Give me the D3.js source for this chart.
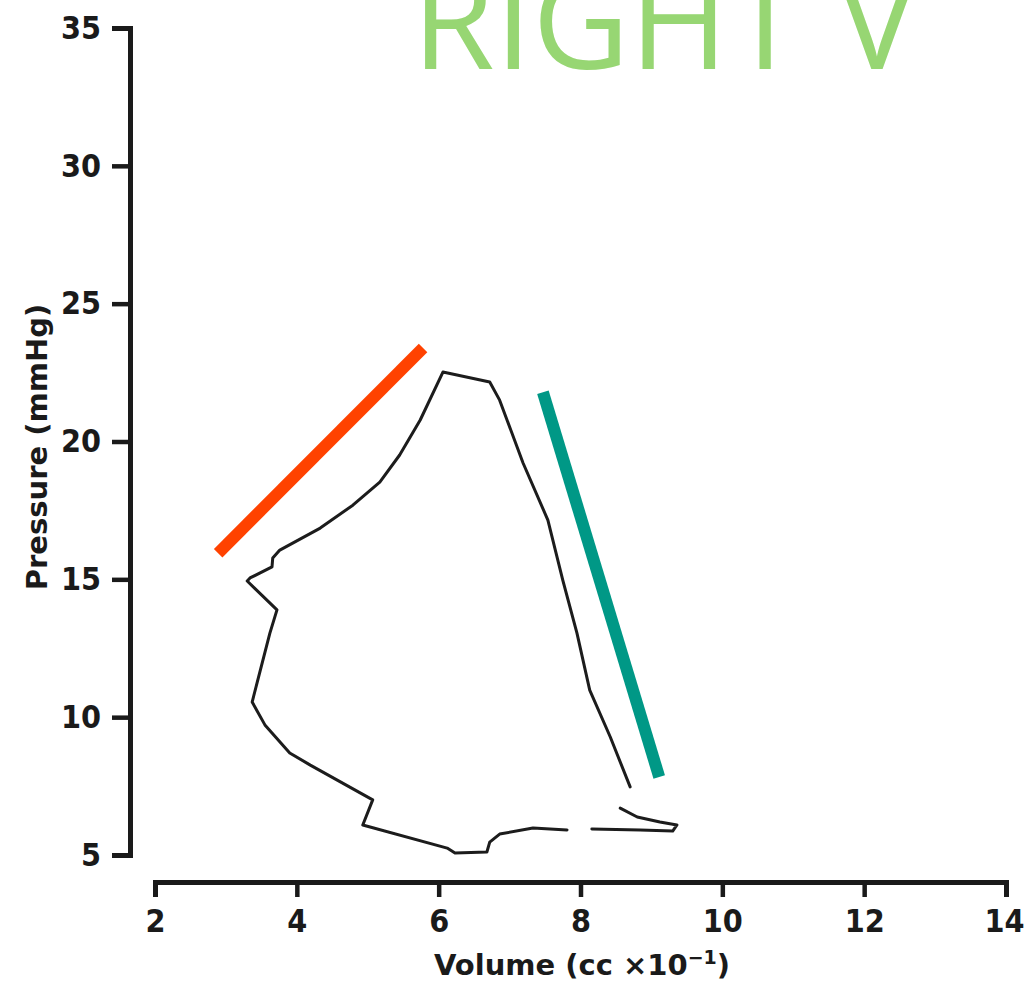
<!DOCTYPE html>
<html>
<head>
<meta charset="utf-8">
<script src="https://cdn.jsdelivr.net/npm/d3@7"></script>
<style>
  html, body { margin: 0; padding: 0; background: #ffffff; overflow: hidden; }
  svg { display: block; }
  .tick text { font-family: "DejaVu Sans Condensed", "DejaVu Sans", sans-serif; font-weight: bold; font-stretch: condensed; font-size: 32px; fill: #1a1a1a; }
  .axis-title { font-family: "DejaVu Sans", sans-serif; font-weight: bold; font-size: 29px; fill: #1a1a1a; }
</style>
</head>
<body>
<script>
// ---- data ----
const titleText = "RIGHT V";
const xTicks = [2, 4, 6, 8, 10, 12, 14];
const yTicks = [5, 10, 15, 20, 25, 30, 35];
const xLabel = "Volume (cc \u00d710";
const yLabel = "Pressure (mmHg)";

// Pressure-volume loop (volume in cc x10^-1, pressure in mmHg); null = gap in the trace
const loopVolume = [8.56, 8.80, 9.12, 9.36, 9.30, 8.84, 8.16, null, 7.81, 7.33, 6.86, 6.72, 6.68, 6.23, 6.12,
  4.93, 5.07, 4.19, 3.90, 3.55, 3.37, 3.62, 3.72, 3.30, 3.34, 3.65, 3.66, 3.76, 4.33, 4.79, 5.17, 5.45,
  5.74, 6.06, 6.72, 6.86, 7.19, 7.54, 7.75, 7.95, 8.13, 8.42, 8.70];
const loopPressure = [6.70, 6.38, 6.20, 6.09, 5.87, 5.91, 5.94, null, 5.91, 5.98, 5.76, 5.47, 5.11, 5.07, 5.25,
  6.09, 7.00, 8.26, 8.70, 9.72, 10.55, 13.05, 13.89, 14.94, 15.05, 15.45, 15.77, 16.06, 16.86, 17.69, 18.53, 19.51,
  20.78, 22.52, 22.16, 21.50, 19.22, 17.15, 14.97, 13.05, 10.98, 9.28, 7.47];

// annotation slope lines
const redLineVolume = [2.89, 5.78];
const redLinePressure = [15.95, 23.39];
const greenLineVolume = [7.47, 9.11];
const greenLinePressure = [21.79, 7.83];

// ---- layout ----
const W = 1025, H = 983;
const svg = d3.select("body").append("svg").attr("width", W).attr("height", H);

const x = d3.scaleLinear().domain([2, 14]).range([155, 1006]);
const y = d3.scaleLinear().domain([5, 35]).range([855, 28]);

// title
svg.append("text")
  .attr("x", 412).attr("y", 69)
  .style("font-family", "'Open Sans', sans-serif")
  .style("font-size", "134px")
  .style("fill", "#97d673")
  .text(titleText);

// y axis
const yAxis = svg.append("g")
  .attr("transform", "translate(130,0)")
  .call(d3.axisLeft(y).tickValues(yTicks).tickSize(18).tickPadding(11).tickFormat(d3.format("d")));
yAxis.select(".domain").attr("stroke", "#1a1a1a").attr("stroke-width", 5).attr("fill", "none");
yAxis.selectAll(".tick line").attr("stroke", "#1a1a1a").attr("stroke-width", 4.5);

// x axis
const xAxis = svg.append("g")
  .attr("transform", "translate(0,882)")
  .call(d3.axisBottom(x).tickValues(xTicks).tickSize(15).tickPadding(12).tickFormat(d3.format("d")));
xAxis.select(".domain").attr("stroke", "#1a1a1a").attr("stroke-width", 5).attr("fill", "none");
xAxis.selectAll(".tick line").attr("stroke", "#1a1a1a").attr("stroke-width", 4.5);
// keep the last label inside the page edge
xAxis.selectAll(".tick text").filter(d => d === 14).attr("text-anchor", "end").attr("x", 18);

// axis titles
const xt = svg.append("text").attr("class", "axis-title")
  .attr("x", 582).attr("y", 975).attr("text-anchor", "middle");
xt.append("tspan").text(xLabel);
xt.append("tspan").attr("dy", -11).style("font-size", "19px").text("\u22121");
xt.append("tspan").attr("dy", 11).text(")");

svg.append("text").attr("class", "axis-title")
  .attr("transform", "translate(47,447) rotate(-90)")
  .attr("text-anchor", "middle")
  .text(yLabel);

// loop
const pts = loopVolume.map((v, i) => [v, loopPressure[i]]);
const line = d3.line()
  .defined(d => d[0] != null && d[1] != null)
  .x(d => x(d[0])).y(d => y(d[1]));
svg.append("path").datum(pts)
  .attr("d", line)
  .attr("fill", "none").attr("stroke", "#1c1c1c").attr("stroke-width", 3)
  .attr("stroke-linejoin", "round").attr("stroke-linecap", "round");

// annotation lines
svg.append("path").datum(redLineVolume.map((v, i) => [v, redLinePressure[i]]))
  .attr("d", d3.line().x(d => x(d[0])).y(d => y(d[1])))
  .attr("stroke", "#ff4200").attr("stroke-width", 12).attr("fill", "none");
svg.append("path").datum(greenLineVolume.map((v, i) => [v, greenLinePressure[i]]))
  .attr("d", d3.line().x(d => x(d[0])).y(d => y(d[1])))
  .attr("stroke", "#009886").attr("stroke-width", 12).attr("fill", "none");
</script>
</body>
</html>
